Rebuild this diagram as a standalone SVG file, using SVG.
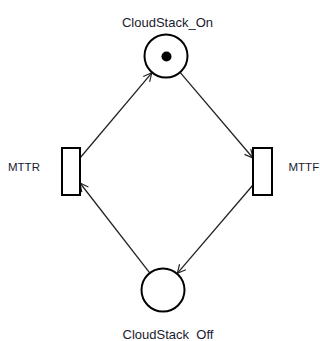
<svg xmlns="http://www.w3.org/2000/svg" width="320" height="341" viewBox="0 0 320 341">
<style>
.place{fill:#fff;stroke:#000;stroke-width:2}
.trans{fill:#fff;stroke:#000;stroke-width:2}
.lbl{font-family:"Liberation Sans",Arial,sans-serif;font-size:13px;fill:#1a1a2e}
.side{font-size:11.5px}
.arc{stroke:#222;stroke-width:1.3;fill:none;marker-end:url(#arr)}
</style>
<defs>
<marker id="arr" viewBox="0 0 12 12" refX="11" refY="6" markerWidth="10" markerHeight="10" markerUnits="userSpaceOnUse" orient="auto">
<path d="M1,1 L11,6 L1,11" fill="none" stroke="#222" stroke-width="1.4"/>
</marker>
</defs>
<rect width="320" height="341" fill="#fff"/>
<g id="connectors">
<line class="arc" x1="80" y1="158" x2="151.8" y2="72.8"/>
<line class="arc" x1="180.3" y1="72.7" x2="253" y2="158"/>
<line class="arc" x1="253" y1="185" x2="177.3" y2="273.3"/>
<line class="arc" x1="149.5" y1="272.6" x2="80" y2="183"/>
</g>
<g id="CloudStack_On">
<circle class="place" cx="166" cy="56" r="21.5"/>
<circle cx="166.5" cy="56.5" r="5" fill="#000"/>
<text class="lbl" x="167.5" y="27" text-anchor="middle">CloudStack_On</text>
</g>
<g id="CloudStack_Off">
<circle class="place" cx="163" cy="290" r="21.5"/>
<text class="lbl" x="168" y="339" text-anchor="middle">CloudStack_Off</text>
</g>
<g id="MTTR">
<rect class="trans" x="62" y="148" width="18" height="47"/>
<text class="lbl side" x="8" y="171">MTTR</text>
</g>
<g id="MTTF">
<rect class="trans" x="253" y="148" width="19" height="47"/>
<text class="lbl side" x="288.5" y="171">MTTF</text>
</g>
</svg>
